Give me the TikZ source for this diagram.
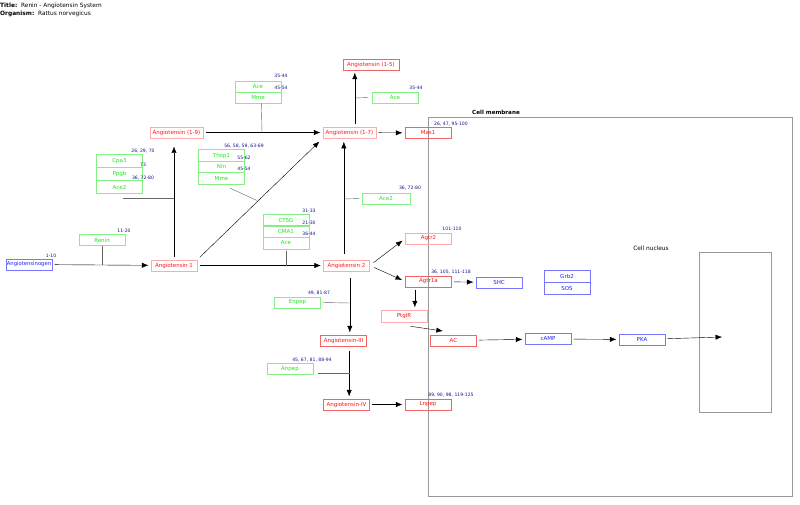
\documentclass[tikz,border=0pt]{standalone}
\usepackage{fontspec}
\setmainfont{DejaVu Sans}
\usetikzlibrary{arrows.meta}
\definecolor{redtxt}{RGB}{255,20,20}
\definecolor{redline}{RGB}{240,100,100}
\definecolor{pinkline}{RGB}{255,170,170}
\definecolor{greentxt}{RGB}{30,230,30}
\definecolor{greenline}{RGB}{130,240,130}
\definecolor{bluetxt}{RGB}{30,30,255}
\definecolor{blueline}{RGB}{120,120,255}
\definecolor{reftxt}{RGB}{20,20,140}
\begin{document}
\begin{tikzpicture}[x=0.03cm,y=-0.03cm,
  every node/.style={font=\fontsize{4.7}{5.5}\selectfont},
  gene/.style={minimum width=1.38cm,minimum height=0.33cm,inner sep=0pt,line width=0.5pt},
  redbox/.style={gene,draw=redline,text=redtxt},
  pinkbox/.style={gene,draw=pinkline,text=redtxt},
  greenbox/.style={gene,draw=greenline,text=greentxt},
  bluebox/.style={gene,draw=blueline,text=bluetxt},
  ref/.style={text=reftxt,inner sep=0pt,font=\fontsize{3.9}{4.5}\selectfont},
  arr/.style={-{Latex[length=5.5pt,width=4.4pt]},black,line width=0.35pt,shorten >=2pt,shorten <=2pt},
  cat/.style={gray!80!black,line width=0.35pt},
  comp/.style={draw=gray!80,line width=0.6pt}]
  \useasboundingbox (0,0) rectangle (800,505);
  % Title
  \node[anchor=west,inner sep=0pt,font=\fontsize{5}{6}\selectfont] (title) at (0,6) {\textbf{Title:}\ \ Renin - Angiotensin System};
  \node[anchor=west,inner sep=0pt,font=\fontsize{5}{6}\selectfont] (organism) at (0,14) {\textbf{Organism:}\ \ Rattus norvegicus};
  % Compartments
  \draw[comp] (428,117) rectangle (792,496);
  \node[font=\bfseries\fontsize{4.8}{5.5}\selectfont] (membrane) at (496,112) {Cell membrane};
  \draw[comp] (699,252) rectangle (771,412);
  \node[font=\fontsize{5}{6}\selectfont] (nucleus) at (651,248) {Cell nucleus};
  % Peptides and receptors
  \node[bluebox,font=\fontsize{4.5}{5}\selectfont] (agen) at (29,264.5) {Angiotensinogen};
  \node[pinkbox] (ang1) at (174,265.5) {Angiotensin 1};
  \node[pinkbox,minimum width=1.59cm] (ang19) at (176.5,132.5) {Angiotensin (1-9)};
  \node[pinkbox,minimum width=1.59cm] (ang17) at (349.5,132.5) {Angiotensin (1-7)};
  \node[redbox,minimum width=1.68cm] (ang15) at (371,64.5) {Angiotensin (1-5)};
  \node[redbox] (mas1) at (428,133) {Mas1};
  \node[pinkbox] (ang2) at (346.5,265.5) {Angiotensin 2};
  \node[pinkbox] (agtr2) at (428.5,238.5) {Agtr2};
  \node[redbox] (agtr1a) at (428.5,281.5) {Agtr1a};
  \node[pinkbox,minimum height=0.36cm] (ptgir) at (404,316) {PtgIR};
  \node[redbox] (ac) at (453.5,340.5) {AC};
  \node[redbox] (ang3) at (343.5,340.5) {Angiotensin-III};
  \node[redbox] (ang4) at (346.5,404.5) {Angiotensin-IV};
  \node[redbox] (lnpep) at (428,404.5) {Lnpep};
  \node[bluebox] (shc) at (499,282.5) {SHC};
  \node[bluebox,minimum height=0.36cm] (grb2) at (567,276.5) {Grb2};
  \node[bluebox,minimum height=0.36cm] (sos) at (567,288.5) {SOS};
  \node[bluebox] (camp) at (548,339) {cAMP};
  \node[bluebox] (pka) at (642,339.5) {PKA};
  % Enzymes
  \node[greenbox] (renin) at (102,240) {Renin};
  \node[greenbox,minimum height=0.38cm] (cpa3) at (119.5,161) {Cpa3};
  \node[greenbox,minimum height=0.38cm] (ppgb) at (119.5,174) {Ppgb};
  \node[greenbox,minimum height=0.38cm] (ace2a) at (119.5,187) {Ace2};
  \node[greenbox] (ace1) at (258,86.5) {Ace};
  \node[greenbox] (mme1) at (258,97.5) {Mme};
  \node[greenbox,minimum height=0.35cm] (thop1) at (221.5,155.5) {Thop1};
  \node[greenbox,minimum height=0.35cm] (nln) at (221.5,166.8) {Nln};
  \node[greenbox,minimum height=0.35cm] (mme2) at (221.5,178.1) {Mme};
  \node[greenbox] (ace3) at (395,97.5) {Ace};
  \node[greenbox,minimum height=0.35cm] (ctsg) at (286,220) {CTSG};
  \node[greenbox,minimum height=0.35cm] (cma1) at (286,231.5) {CMA1};
  \node[greenbox,minimum height=0.35cm] (ace4) at (286,243) {Ace};
  \node[greenbox,minimum width=1.44cm] (ace2b) at (386,198.5) {Ace2};
  \node[greenbox] (enpep) at (297.5,302.5) {Enpep};
  \node[greenbox] (anpep) at (290,369) {Anpep};
  % Reference numbers
  \foreach \x/\y/\t/\n in {51/256/{1-10}/r-agen, 124/231/{11-20}/r-renin,
      143/151/{26, 29, 70}/r-cpa3, 143/165/{73}/r-ppgb, 143/178/{36, 72-80}/r-ace2a,
      281/76/{35-44}/r-ace1, 281/88/{45-54}/r-mme1,
      244/146/{56, 58, 59, 63-69}/r-thop1, 244/158/{55-62}/r-nln, 244/169/{45-54}/r-mme2,
      416/88/{35-44}/r-ace3, 451/124/{26, 47, 95-100}/r-mas1,
      309/211/{31-33}/r-ctsg, 309/223/{21-30}/r-cma1, 309/234/{36-44}/r-ace4,
      410/188/{36, 72-80}/r-ace2b, 452/229/{101-110}/r-agtr2, 451/272/{36, 105, 111-118}/r-agtr1a,
      319/293/{49, 81-87}/r-enpep, 312/360/{45, 67, 81, 88-94}/r-anpep,
      451/395/{89, 90, 98, 119-125}/r-lnpep}
    \node[ref] (\n) at (\x,\y) {\t};
  % Reactions
  \draw[arr] (agen) -- (ang1);
  \draw[arr,shorten >=7pt] (ang1.north) -- (ang1.north |- ang19.south);
  \draw[arr] (ang19) -- (ang17);
  \draw[arr,shorten >=4pt,shorten <=3pt] (ang1.north east) -- (ang17.south west);
  \draw[arr,shorten >=2pt] ([xshift=0.16cm]ang17.north) -- ([xshift=0.16cm]ang17.north |- ang15.south);
  \draw[arr] (ang17) -- (mas1);
  \draw[arr] (ang1) -- (ang2);
  \draw[arr,shorten >=3pt,shorten <=5pt] ([xshift=-0.08cm]ang2.north) -- ([xshift=-0.08cm]ang2.north |- ang17.south);
  \draw[arr,shorten >=3pt,shorten <=4pt] (ang2.east) -- (agtr2.west);
  \draw[arr,shorten >=3pt,shorten <=4pt] (ang2.east) -- (agtr1a.west);
  \draw[arr] (agtr1a) -- (shc);
  \draw[arr] ([xshift=-0.41cm]agtr1a.south) -- ([xshift=-0.41cm]agtr1a.south |- ptgir.north);
  \draw[arr,shorten <=0pt] ([xshift=0.2cm,yshift=-0.12cm]ptgir.south) -- ([xshift=-0.25cm,yshift=0.1cm]ac.north);
  \draw[arr] (ac) -- (camp);
  \draw[arr] (camp) -- (pka);
  \coordinate (nuctip) at (722,337);
  \draw[arr,shorten >=0pt] (pka) -- (nuctip);
  \draw[arr,shorten <=6pt] ([xshift=0.1cm]ang2.south) -- ([xshift=0.1cm]ang2.south |- ang3.north);
  \draw[arr,shorten <=4pt] ([xshift=0.17cm]ang3.south) -- ([xshift=0.17cm]ang3.south |- ang4.north);
  \draw[arr] (ang4) -- (lnpep);
  % Catalysis
  \coordinate (c-renin) at (renin.south |- agen.east);
  \draw[cat] (renin.south) -- (c-renin);
  \coordinate (c-cpa3) at (174,198);
  \draw[cat] ([xshift=0.1cm]ace2a.south |- c-cpa3) -- (c-cpa3);
  \coordinate (c-ace1) at (mme1.south |- ang19.east);
  \draw[cat] ([xshift=0.1cm]mme1.south) -- ([xshift=0.12cm]c-ace1);
  \coordinate (c-thop1) at (257,200.5);
  \draw[cat] ([xshift=0.26cm,yshift=-0.12cm]mme2.south) -- (c-thop1);
  \coordinate (c-ace3) at (355,98);
  \draw[cat] ([xshift=-0.1cm]ace3.west) -- (c-ace3);
  \coordinate (c-ctsg) at (ace4.south |- ang1.east);
  \draw[cat] ([yshift=-0.05cm]ace4.south) -- (c-ctsg);
  \coordinate (c-ace2b) at (344,199);
  \draw[cat] ([xshift=-0.06cm]ace2b.west) -- (c-ace2b);
  \coordinate (c-enpep) at (350,303);
  \draw[cat] ([xshift=0.05cm]enpep.east) -- (c-enpep);
  \coordinate (c-anpep) at (350,373);
  \draw[cat] ([xshift=0.15cm,yshift=-0.12cm]anpep.east) -- (c-anpep);
\end{tikzpicture}
\end{document}
